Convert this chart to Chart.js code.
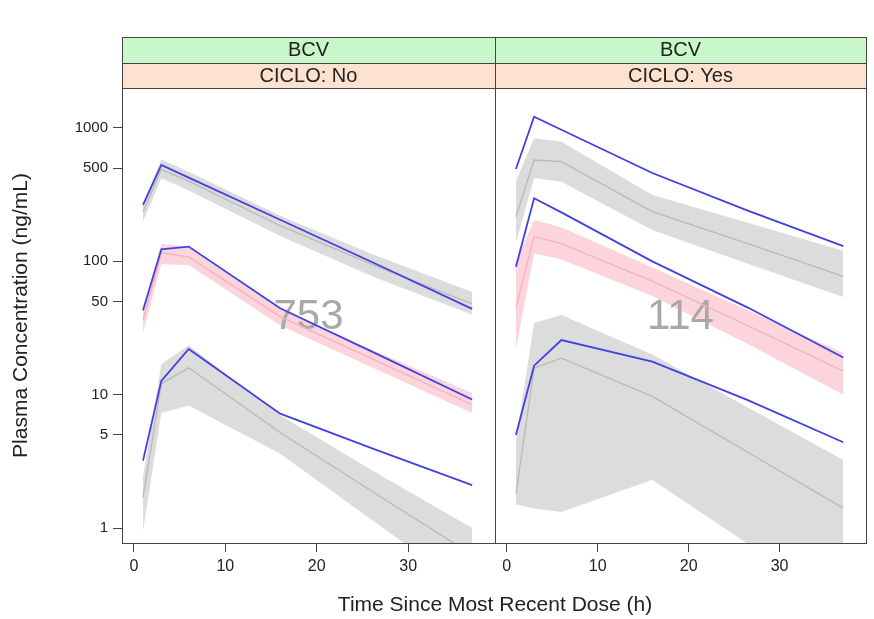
<!DOCTYPE html>
<html><head><meta charset="utf-8">
<script src="https://cdn.jsdelivr.net/npm/chart.js@4.4.1/dist/chart.umd.min.js"></script>
<style>
html,body{margin:0;padding:0;background:#fff;overflow:hidden;}
#wrap{position:relative;width:874px;height:619px;}
canvas{position:absolute;left:0;top:0;}
#xt{position:absolute;left:245px;width:500px;top:592px;text-align:center;font:21px "Liberation Sans",Arial,sans-serif;color:#222;}
</style></head><body>
<div id="wrap">
<canvas id="c1" width="874" height="619" style="width:874px;height:619px"></canvas>
<canvas id="c2" width="874" height="619" style="width:874px;height:619px"></canvas>
<div id="xt">Time Since Most Recent Dose (h)</div>
</div>
<script>
// ---- data ----
const times = [1, 3, 6, 16, 26.5, 37];
const xTicks = [0, 10, 20, 30];
const yTicks = [1, 5, 10, 50, 100, 500, 1000];
const outerStrip = "BCV";
const panelLabels = ["CICLO: No", "CICLO: Yes"];
const panelCounts = ["753", "114"];

// CICLO: No
const noHighObs = [265, 528, 424, 205, 95.5, 44];
const noHighMed = [235, 490, 400, 185, 92, 48];
const noHighUp  = [272, 580, 470, 220, 110, 59];
const noHighLo  = [200, 420, 340, 155, 75, 40];
const noMidObs  = [43, 123, 129, 44.5, 20.3, 9.2];
const noMidMed  = [36, 116, 108, 38.5, 18, 8.4];
const noMidUp   = [43, 135, 130, 44, 21, 10.3];
const noMidLo   = [29, 95, 94, 33, 15.5, 7.3];
const noLowObs  = [3.2, 12.7, 22, 7.2, 3.85, 2.1];
const noLowMed  = [1.7, 12.1, 15.9, 5.2, 1.8, 0.63];
const noLowUp   = [2.4, 17, 23.4, 7.0, 2.6, 1.0];
const noLowLo   = [0.95, 7.3, 8.3, 3.6, 1.09, 0.33];

// CICLO: Yes
const yesHighObs = [492, 1216, 971, 460, 240, 130];
const yesHighMed = [216, 575, 559, 236, 136, 77];
const yesHighUp  = [400, 838, 790, 314, 195, 120];
const yesHighLo  = [137, 422, 396, 172, 96, 54];
const yesMidObs  = [91, 297, 233, 100, 45, 19];
const yesMidMed  = [45, 153, 136, 71, 33, 15];
const yesMidUp   = [100, 204, 180, 90, 43, 20.5];
const yesMidLo   = [22, 115, 103, 55, 24, 10];
const yesLowObs  = [4.98, 16.5, 25.7, 17.7, 9.1, 4.4];
const yesLowMed  = [1.8, 15.8, 18.8, 9.7, 3.7, 1.41];
const yesLowUp   = [4.5, 34.5, 39.6, 20, 8.0, 3.24];
const yesLowLo   = [1.5, 1.4, 1.32, 2.3, 0.76, 0.25];

// ---- styling ----
const FAM = '"Liberation Sans", Arial, sans-serif';
Chart.defaults.font.family = FAM;
const BLUE = '#4040e4';
const GRAY_BAND = '#dcdcdc', GRAY_MED = '#b9b9b9';
const PINK_BAND = '#fcd5dc', PINK_MED = '#f3b1bd';
const FRAME = '#444';

function pts(arr) { return arr.map((v, i) => ({x: times[i], y: v})); }

function groupDatasets(up, lo, med, obs, band, medCol) {
  return [
    {data: pts(up), fill: '+1', backgroundColor: band, borderColor: 'rgba(0,0,0,0)', borderWidth: 0, pointRadius: 0, order: 3},
    {data: pts(lo), fill: false, backgroundColor: 'rgba(0,0,0,0)', borderColor: 'rgba(0,0,0,0)', borderWidth: 0, pointRadius: 0, order: 3},
    {data: pts(med), fill: false, borderColor: medCol, borderWidth: 1.3, pointRadius: 0, order: 2},
    {data: pts(obs), fill: false, borderColor: BLUE, borderWidth: 1.8, pointRadius: 0, order: 1}
  ];
}

const deco = {
  id: 'deco',
  afterDatasetDraw(chart, args, opts) {
    // draw the count label after the last band (dataset 0) and before the lines
    if (args.index !== 0) return;
    const a = chart.chartArea, ctx = chart.ctx;
    ctx.save();
    ctx.font = '42px ' + FAM;
    ctx.fillStyle = '#a8a8a8';
    ctx.textAlign = 'center'; ctx.textBaseline = 'middle';
    ctx.fillText(opts.count, (a.left + a.right) / 2, (a.top + a.bottom) / 2 + 2);
    ctx.restore();
  },
  afterDraw(chart, args, opts) {
    const a = chart.chartArea, ctx = chart.ctx;
    const w = a.right - a.left;
    ctx.save();
    ctx.fillStyle = '#c9f7c9';
    ctx.fillRect(a.left, a.top - 51, w, 26);
    ctx.fillStyle = '#fde3cf';
    ctx.fillRect(a.left, a.top - 25, w, 25);
    ctx.strokeStyle = FRAME; ctx.lineWidth = 1;
    ctx.beginPath();
    ctx.moveTo(a.left, a.top - 25 + 0.5); ctx.lineTo(a.right, a.top - 25 + 0.5);
    ctx.moveTo(a.left, a.top + 0.5); ctx.lineTo(a.right, a.top + 0.5);
    ctx.stroke();
    ctx.strokeRect(a.left + 0.5, a.top - 51 + 0.5, w, a.bottom - a.top + 51);
    ctx.fillStyle = '#222';
    ctx.font = '20px ' + FAM;
    ctx.textAlign = 'center'; ctx.textBaseline = 'middle';
    ctx.fillText(outerStrip, (a.left + a.right) / 2, a.top - 38);
    ctx.fillText(opts.label, (a.left + a.right) / 2, a.top - 12);
    ctx.restore();
  }
};

function makePanel(id, idx, groups, showY, padding) {
  let datasets = [];
  groups.forEach(g => { datasets = datasets.concat(groupDatasets(...g)); });
  new Chart(document.getElementById(id), {
    type: 'line',
    data: {datasets},
    plugins: [deco],
    options: {
      responsive: false, animation: false,
      layout: {padding},
      plugins: {legend: {display: false}, tooltip: {enabled: false}, deco: {count: panelCounts[idx], label: panelLabels[idx]}},
      scales: {
        x: {
          type: 'linear', min: -1.3, max: 39.5,
          afterBuildTicks: s => { s.ticks = xTicks.map(v => ({value: v})); },
          afterFit: s => { s.height = 76; },
          grid: {display: true, drawOnChartArea: false, drawTicks: true, tickLength: 9, color: FRAME, tickColor: FRAME},
          border: {display: false},
          ticks: {font: {size: 16}, color: '#222', padding: 5, maxRotation: 0, autoSkip: false, callback: v => String(v)}
        },
        y: {
          type: 'logarithmic', min: 0.772, max: 1995, display: showY,
          afterBuildTicks: s => { s.ticks = yTicks.map(v => ({value: v})); },
          afterFit: s => { if (showY) s.width = 122; },
          grid: {display: true, drawOnChartArea: false, drawTicks: true, tickLength: 9, color: FRAME, tickColor: FRAME},
          border: {display: false},
          ticks: {font: {size: 15}, color: '#222', padding: 5, autoSkip: false, callback: v => String(v)},
          title: {display: true, text: 'Plasma Concentration (ng/mL)', font: {size: 21}, color: '#222', padding: {top: 9, bottom: 0}}
        }
      }
    }
  });
}

makePanel('c1', 0, [
  [noHighUp, noHighLo, noHighMed, noHighObs, GRAY_BAND, GRAY_MED],
  [noMidUp, noMidLo, noMidMed, noMidObs, PINK_BAND, PINK_MED],
  [noLowUp, noLowLo, noLowMed, noLowObs, GRAY_BAND, GRAY_MED]
], true, {top: 88, left: 0, right: 379, bottom: 0});

makePanel('c2', 1, [
  [yesHighUp, yesHighLo, yesHighMed, yesHighObs, GRAY_BAND, GRAY_MED],
  [yesMidUp, yesMidLo, yesMidMed, yesMidObs, PINK_BAND, PINK_MED],
  [yesLowUp, yesLowLo, yesLowMed, yesLowObs, GRAY_BAND, GRAY_MED]
], false, {top: 88, left: 495, right: 8, bottom: 0});
</script>
</body></html>
